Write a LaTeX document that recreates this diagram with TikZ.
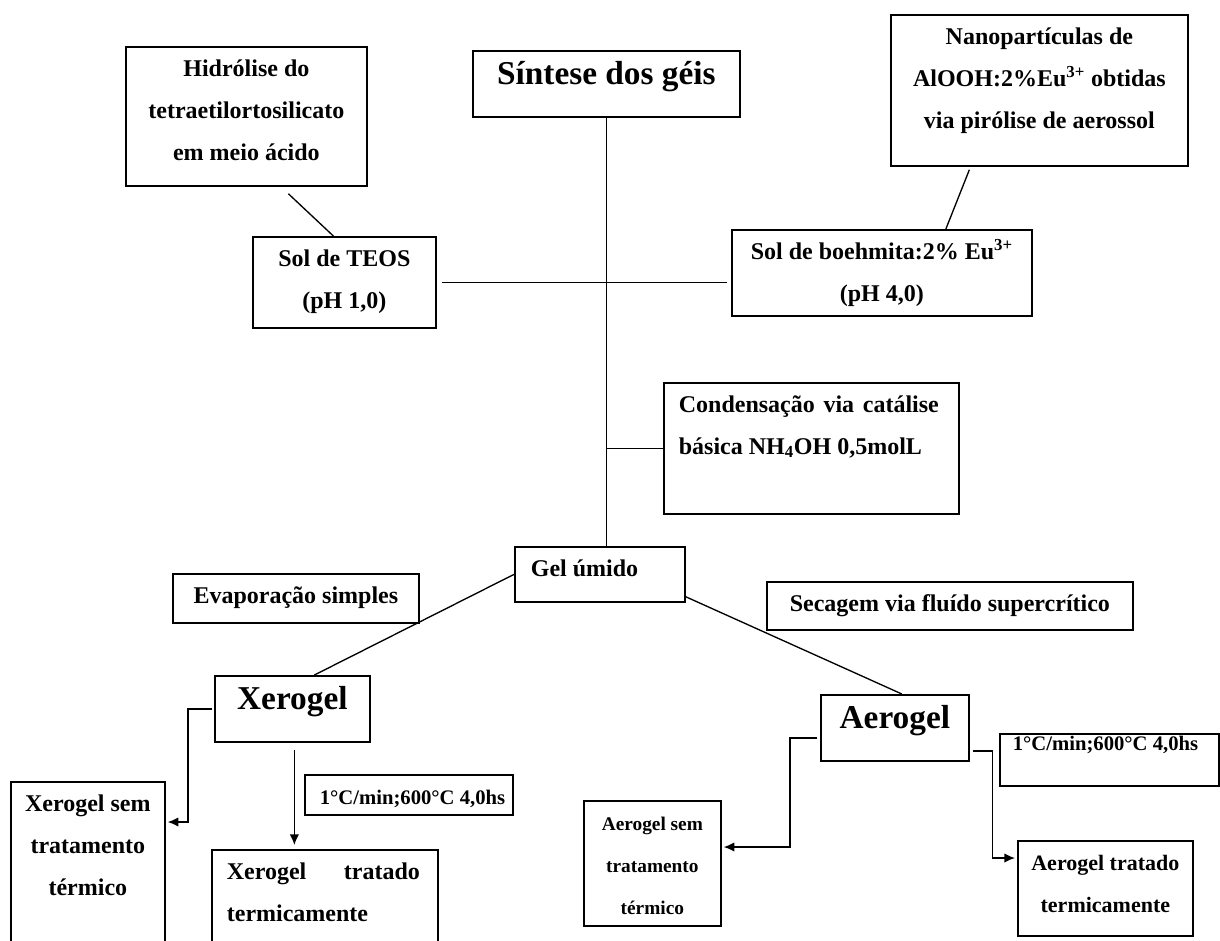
\documentclass[tikz,border=0pt]{standalone}
\usepackage{fontspec}
\setmainfont{Liberation Serif}
\usetikzlibrary{positioning, calc, arrows.meta}

\newlength{\px}
\setlength{\px}{0.75pt}
\newcommand{\conteudo}[3]{\parbox[t][#2\px][t]{#1\px}{#3}}

\tikzset{
  caixa/.style={draw, line width=1.3pt, inner sep=0pt, anchor=north west, font=\bfseries\fontsize{18}{31.5}\selectfont},
  grande/.style={font=\bfseries\fontsize{25}{36}\selectfont},
  liga/.style={line width=1pt},
}

\begin{document}
\begin{tikzpicture}[x=0.75pt, y=-0.75pt]
        \useasboundingbox (0,0) rectangle (1220,940);

        % Caixas de cima (precursores)
        \node[caixa] (hidrolise) at (125,46) {\conteudo{241}{139}{\centering\strut Hidrólise do\\ tetraetilortosilicato\\ em meio ácido}};
        \node[caixa, grande] (sintese) at (472,50) {\conteudo{267}{66}{\centering\strut Síntese dos géis}};
        \node[caixa] (nano) at (890,14) {\conteudo{297}{151}{\centering\strut Nanopartículas de\\ AlOOH:2\%Eu\textsuperscript{3+} obtidas\\ via pirólise de aerossol}};

        % Sóis
        \node[caixa] (teos) at (252,236) {\conteudo{183}{91}{\centering\strut Sol de TEOS\\ (pH 1,0)}};
        \node[caixa] (boehmita) at (731,229) {\conteudo{300}{86}{\centering\strut Sol de boehmita:2\% Eu\textsuperscript{3+}\\ (pH 4,0)}};

        % Condensação e gel
        \node[caixa] (condensacao) at (663,382) {\conteudo{295}{131}{\leftskip=15\px \rightskip=20\px \strut Condensação\hfill via\hfill catálise\\ básica NH\textsubscript{4}OH 0,5molL}};
        \node[caixa] (gel) at (514,546) {\conteudo{170}{55}{\leftskip=16\px \strut Gel úmido}};

        % Secagem
        \node[caixa] (evaporacao) at (172,573) {\conteudo{246}{49}{\centering\strut Evaporação simples}};
        \node[caixa] (secagem) at (766,581) {\conteudo{366}{48}{\centering\strut Secagem via fluído supercrítico}};
        \node[caixa, grande] (xerogel) at (214,675) {\conteudo{155}{66}{\centering\strut Xerogel}};
        \node[caixa, grande] (aerogel) at (820,694) {\conteudo{148}{66}{\centering\strut Aerogel}};

        % Tratamento térmico
        \node[caixa, font=\bfseries\fontsize{15.5}{31.5}\selectfont] (rampax) at (304,774) {\conteudo{208}{40}{\leftskip=15\px \strut 1°C/min;600°C 4,0hs}};
        \node[caixa, font=\bfseries\fontsize{15.5}{31.5}\selectfont] (rampaa) at (999,733) {\conteudo{219}{52}{\leftskip=13\px \rule{0pt}{17\px}1°C/min;600°C 4,0hs}};

        % Produtos finais
        \node[caixa] (xsem) at (10,781) {\conteudo{154}{170}{\centering\strut Xerogel sem\\ tratamento\\ térmico}};
        \node[caixa] (xtratado) at (211,849) {\conteudo{226}{101}{\leftskip=15\px \rightskip=18\px \strut Xerogel\hfill tratado\\ termicamente}};
        \node[caixa, font=\bfseries\fontsize{14.5}{31.5}\selectfont] (asem) at (583,800) {\conteudo{137}{125}{\centering\strut Aerogel sem\\ tratamento\\ térmico}};
        \node[caixa, font=\bfseries\fontsize{16.5}{31.5}\selectfont] (atratado) at (1017,840) {\conteudo{175}{95}{\centering\strut Aerogel tratado\\ termicamente}};

        % Ligações
        \draw[liga] (sintese.south) -- (sintese.south |- gel.north);
        \draw[liga] ($(teos.east)+(5,0)$) -- ($(teos.east -| boehmita.west)+(-4,0)$);
        \draw[liga] ($(hidrolise.south)+(42,7)$) -- ($(teos.north)+(-11,0)$);
        \draw[liga] ($(nano.south)+(-70,3)$) -- ($(boehmita.north)+(64,0)$);
        \draw[liga] (sintese.south |- condensacao.west) -- (condensacao.west);
        \draw[liga] (gel.west) -- ($(xerogel.north)+(22,0)$);
        \draw[liga] ($(gel.south east)+(0,-6)$) -- ($(aerogel.north)+(7,0)$);

        % Setas
        \draw[liga, ->, >={Latex[length=8pt, width=7pt]}] ($(xerogel.west)+(-2,0)$) -- ++(-24,0) |- ($(xsem.north east)+(2,41)$);
        \draw[liga, ->, >={Latex[length=8pt, width=7pt]}] ($(xerogel.south)+(2,7)$) -- ($(xerogel.south |- xtratado.north)+(2,-4)$);
        \draw[liga, ->, >={Latex[length=8pt, width=7pt]}] ($(aerogel.west)+(-3,10)$) -- ++(-27,0) |- ($(asem.north east)+(2,47)$);
        \draw[liga, ->, >={Latex[length=8pt, width=7pt]}] ($(aerogel.east)+(3,23)$) -- ++(20,0) |- ($(atratado.north west)+(-2,18)$);
    \end{tikzpicture}
\end{document}
